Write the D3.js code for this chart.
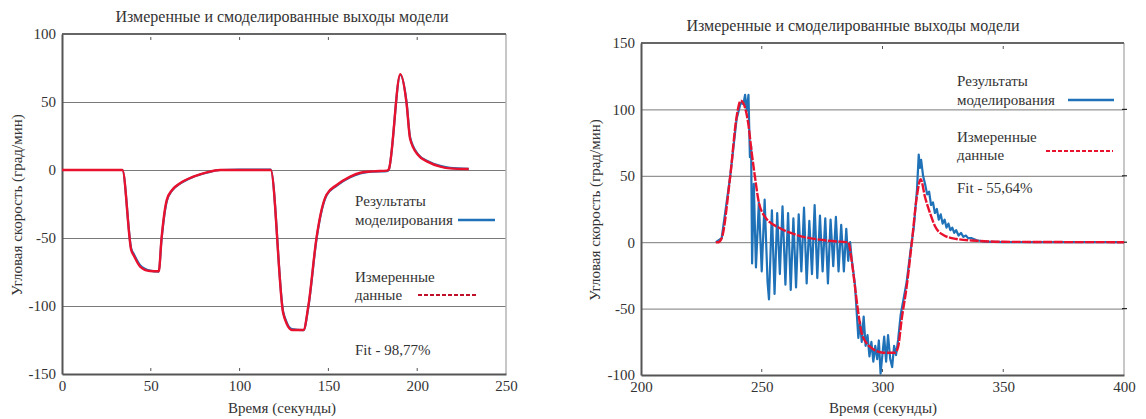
<!DOCTYPE html>
<html>
<head>
<meta charset="utf-8">
<script src="https://cdn.jsdelivr.net/npm/d3@7"></script>
<style>
  html, body { margin: 0; padding: 0; background: #fff; }
  svg text { font-family: "Liberation Serif", "Times New Roman", Tinos, "Noto Serif", "DejaVu Serif", serif; fill: #333; }
</style>
</head>
<body>
<svg id="chart" width="1146" height="419"></svg>
<script>
// ---- left chart data ----
const leftTime = [0, 34, 39, 40.5, 44, 49.5, 54.5, 56, 59, 62, 66.5, 74, 81.5, 89, 100, 117.5,
  124.5, 126.5, 129.5, 136, 138.7, 143.4, 146.2, 149, 154.7, 162, 168, 175, 183, 184,
  190.5, 194, 196, 200.5, 206, 213, 218.5, 229];
const leftMeasured = [0, 0, -59, -63, -71, -74.3, -74.5, -51, -22, -14.7, -9.8, -4.9, -1.7, 0, 0, 0,
  -105, -113, -117.6, -117.6, -100, -49, -29, -18, -11, -5, -2, -1, -0.5, 0.5,
  70.5, 49, 23, 11, 6, 2.5, 1.2, 0.7];
const leftSimulated = [0, 0, -58, -62, -70, -74, -74.8, -52, -23, -15, -10, -5, -2, 0, 0.3, 0.3,
  -104, -112, -117, -117.8, -101, -50, -30, -18.5, -11.5, -5.5, -2.5, -1.2, -0.8, 0.3,
  70, 50, 24, 11.5, 6.5, 3, 1.5, 0.8];
const leftXTicks = [0, 50, 100, 150, 200, 250];
const leftYTicks = [100, 50, 0, -50, -100, -150];

// ---- right chart data ----
const rightMeasTime = [231, 232, 233.4, 236.9, 239.6, 241.3, 242.4, 244.4, 245.8, 247.2, 248.6, 251.3,
  257.6, 264.5, 272.8, 282.4, 285.8, 287.2, 288.6, 290, 291.4, 294.8, 300.3, 305.2, 306.5,
  307.9, 310, 312.1, 314.2, 315.8, 317.6, 319.7, 321.7, 325.2, 330.7, 339, 350, 400];
const rightMeasured = [0, 0, 3, 49, 94.5, 106.5, 104.6, 89.5, 68, 49, 31.8, 19.2,
  10.5, 5.4, 2.2, 0.4, 0, -13.4, -33.5, -53.5, -68.6, -78.7, -83.2, -83.2, -78.7,
  -58.6, -33.5, -0.8, 34, 47.4, 34, 21.8, 12.2, 5.4, 2.4, 1.1, 0.3, 0];
const rightSimTime = [231, 233.4, 236.9, 239.6, 241.3, 242.4, 243.1, 243.8, 244.5, 245.1, 245.6,
  246.0, 246.7, 247.6, 248.8, 250.0, 250.6, 251.2, 252.4, 253.0, 253.6, 254.2, 255.3, 256.4,
  257.5, 258.6, 259.8, 260.9, 262.0, 263.1, 264.2, 265.3, 266.4, 267.5, 268.6, 269.7, 270.8,
  271.9, 273.0, 274.1, 275.2, 276.3, 277.4, 278.5, 279.6, 280.7, 281.8, 282.9, 284.0, 285.0,
  285.8, 286.6, 287.2, 288.6, 289.4, 290, 290.7, 291.4, 292.2, 293, 293.8, 294.6, 295.4,
  296.2, 297, 297.8, 298.5, 299.2, 300, 300.7, 301.5, 302.3, 303.2, 304, 304.8, 305.6, 306.5,
  307.5, 308.5, 310, 311.5, 313, 314.3, 315.0, 315.5, 316.0, 316.8, 317.6, 318.5, 319.3,
  320.1, 320.9, 321.7, 322.5, 323.3, 324.1, 324.9, 325.7, 326.5, 327.3, 328.1, 328.9, 329.7,
  330.5, 331.5, 332.5, 333.5, 334.5, 335.5, 337, 339, 342, 350, 400];
const rightSimulated = [0, 3, 49, 93, 105, 104, 111, 99, 111, 64, 72,
  -16, 44, -19, 30, -22, 5, 32, -30, -43, -10, 24, -39, 22,
  -24, 27, -32, 22, -36, 18, -34, 21, -22, 26, -31, 16, -24,
  28, -27, 20, -22, 18, -31, 17, -18, 19, -22, 13, -22, 10,
  -14, 0, -12, -32, -55, -72, -60, -75, -56, -78, -70, -86, -75,
  -90, -78, -88, -74, -99, -84, -71, -90, -70, -88, -94, -78, -85, -73,
  -55, -45, -30, -8, 12, 40, 66, 56, 62, 50, 44, 36, 38,
  28, 30, 22, 25, 17, 21, 14, 17, 11, 14, 9, 11, 7,
  9, 5, 7, 4, 5, 3, 3, 1.5, 0.5, 0, 0];
const rightXTicks = [200, 250, 300, 350, 400];
const rightYTicks = [150, 100, 50, 0, -50, -100];

const titleText = "Измеренные и смоделированные выходы модели";
const xLabelText = "Время (секунды)";
const yLabelText = "Угловая скорость (град/мин)";

const blue = "#1f72b8";
const red = "#e8122e";

const svg = d3.select("#chart");

function drawChart(cfg) {
  const { left, right, top, bottom } = cfg.box;
  const x = d3.scaleLinear().domain(cfg.xDomain).range([left, right]);
  const y = d3.scaleLinear().domain(cfg.yDomain).range([bottom, top]);
  const g = svg.append("g");

  // horizontal grid lines
  g.append("g")
    .attr("transform", `translate(${left},0)`)
    .call(d3.axisLeft(y).tickValues(cfg.yTicks.filter(v => v !== cfg.yDomain[0] && v !== cfg.yDomain[1]))
      .tickSize(-(right - left)).tickFormat(""))
    .call(s => s.select(".domain").remove())
    .selectAll("line").attr("stroke", "#7a7a7a").attr("stroke-width", 1);

  // plot frame
  g.append("line").attr("x1", right).attr("x2", right).attr("y1", top).attr("y2", bottom)
    .attr("stroke", "#b5b5b5").attr("stroke-width", 1.5);
  g.append("line").attr("x1", left).attr("x2", right).attr("y1", top).attr("y2", top)
    .attr("stroke", "#666").attr("stroke-width", 2);

  // little tick marks inside top and bottom
  const inner = cfg.xTicks.slice(1, -1);
  g.selectAll(".tt").data(inner).enter().append("line")
    .attr("x1", d => x(d)).attr("x2", d => x(d)).attr("y1", top + 3).attr("y2", top + 6)
    .attr("stroke", "#555").attr("stroke-width", 1);
  g.selectAll(".bt").data(inner).enter().append("line")
    .attr("x1", d => x(d)).attr("x2", d => x(d)).attr("y1", bottom - 6).attr("y2", bottom - 3)
    .attr("stroke", "#555").attr("stroke-width", 1);
  if (cfg.rightTicks) {
    g.selectAll(".rt").data(cfg.yTicks.slice(1, -1)).enter().append("line")
      .attr("x1", right - 2).attr("x2", right + 3).attr("y1", d => y(d)).attr("y2", d => y(d))
      .attr("stroke", "#222").attr("stroke-width", 1.2);
  }

  // axes (plain hyphen minus like the original)
  const fmt = d => String(d).replace("\u2212", "-");
  g.append("g")
    .attr("transform", `translate(${left},0)`)
    .call(d3.axisLeft(y).tickValues(cfg.yTicks).tickSize(0).tickPadding(6).tickFormat(fmt))
    .attr("font-family", null)
    .call(s => s.select(".domain").attr("stroke", "#555").attr("stroke-width", 2))
    .selectAll("text").style("font-size", "15px").attr("fill", "#444");
  g.append("g")
    .attr("transform", `translate(0,${bottom})`)
    .call(d3.axisBottom(x).tickValues(cfg.xTicks).tickSize(0).tickPadding(6).tickFormat(fmt))
    .attr("font-family", null)
    .call(s => s.select(".domain").attr("stroke", "#555").attr("stroke-width", 2))
    .selectAll("text").style("font-size", "15px").attr("fill", "#444");

  // series
  const simLine = d3.line().x(d => x(d[0])).y(d => y(d[1])).curve(cfg.simCurve);
  const measLine = d3.line().x(d => x(d[0])).y(d => y(d[1])).curve(d3.curveMonotoneX);
  g.append("path").datum(d3.zip(cfg.simTime, cfg.simulated))
    .attr("d", simLine).attr("fill", "none").attr("stroke", blue).attr("stroke-width", 2.2)
    .attr("stroke-linejoin", "round");
  g.append("path").datum(d3.zip(cfg.measTime, cfg.measured))
    .attr("d", measLine).attr("fill", "none").attr("stroke", red).attr("stroke-width", 2.4)
    .attr("stroke-dasharray", cfg.measDash).attr("stroke-linejoin", "round");

  // titles
  g.append("text").attr("x", cfg.titleX).attr("y", cfg.titleY).attr("text-anchor", "middle")
    .style("font-size", "16px").text(titleText);
  g.append("text").attr("x", cfg.xLabelX).attr("y", cfg.xLabelY).attr("text-anchor", "middle")
    .style("font-size", "15px").text(xLabelText);
  g.append("text").attr("transform", `translate(${cfg.yLabelX},${cfg.yLabelY}) rotate(-90)`)
    .attr("text-anchor", "middle").style("font-size", "15px").attr("fill", "#555").text(yLabelText);

  // legend
  const L = cfg.legend;
  const lt = (tx, ty, s) => g.append("text").attr("x", tx).attr("y", ty)
    .style("font-size", "15px").attr("fill", "#555").text(s);
  lt(L.x, L.y1, "Результаты");
  lt(L.x, L.y2, "моделирования");
  g.append("line").attr("x1", L.blue[0]).attr("x2", L.blue[1]).attr("y1", L.blue[2]).attr("y2", L.blue[2])
    .attr("stroke", blue).attr("stroke-width", 2.5);
  lt(L.x, L.y3, "Измеренные");
  lt(L.x, L.y4, "данные");
  g.append("line").attr("x1", L.red[0]).attr("x2", L.red[1]).attr("y1", L.red[2]).attr("y2", L.red[2])
    .attr("stroke", L.redColor).attr("stroke-width", 2).attr("stroke-dasharray", "4,2");
  lt(L.x, L.y5, cfg.fitText);
}

drawChart({
  box: { left: 62, right: 506, top: 34, bottom: 374 },
  xDomain: [0, 250], yDomain: [-150, 100],
  xTicks: leftXTicks, yTicks: leftYTicks,
  simTime: leftTime, simulated: leftSimulated, simCurve: d3.curveMonotoneX,
  measTime: leftTime, measured: leftMeasured, measDash: null,
  titleX: 282, titleY: 22, xLabelX: 282, xLabelY: 413, yLabelX: 22, yLabelY: 205,
  rightTicks: false,
  fitText: "Fit - 98,77%",
  legend: { x: 355, y1: 206, y2: 225, y3: 282, y4: 300, y5: 355,
    blue: [458, 495, 220], red: [418, 478, 295], redColor: "#c0102a" }
});

drawChart({
  box: { left: 641, right: 1124, top: 43, bottom: 375 },
  xDomain: [200, 400], yDomain: [-100, 150],
  xTicks: rightXTicks, yTicks: rightYTicks,
  simTime: rightSimTime, simulated: rightSimulated, simCurve: d3.curveLinear,
  measTime: rightMeasTime, measured: rightMeasured, measDash: "9,1.5",
  titleX: 853, titleY: 31, xLabelX: 883, xLabelY: 413, yLabelX: 600, yLabelY: 210,
  rightTicks: true,
  fitText: "Fit - 55,64%",
  legend: { x: 957, y1: 86, y2: 105, y3: 142, y4: 160, y5: 193,
    blue: [1068, 1114, 100], red: [1046, 1113, 151], redColor: "#e8122e" }
});
</script>
</body>
</html>
